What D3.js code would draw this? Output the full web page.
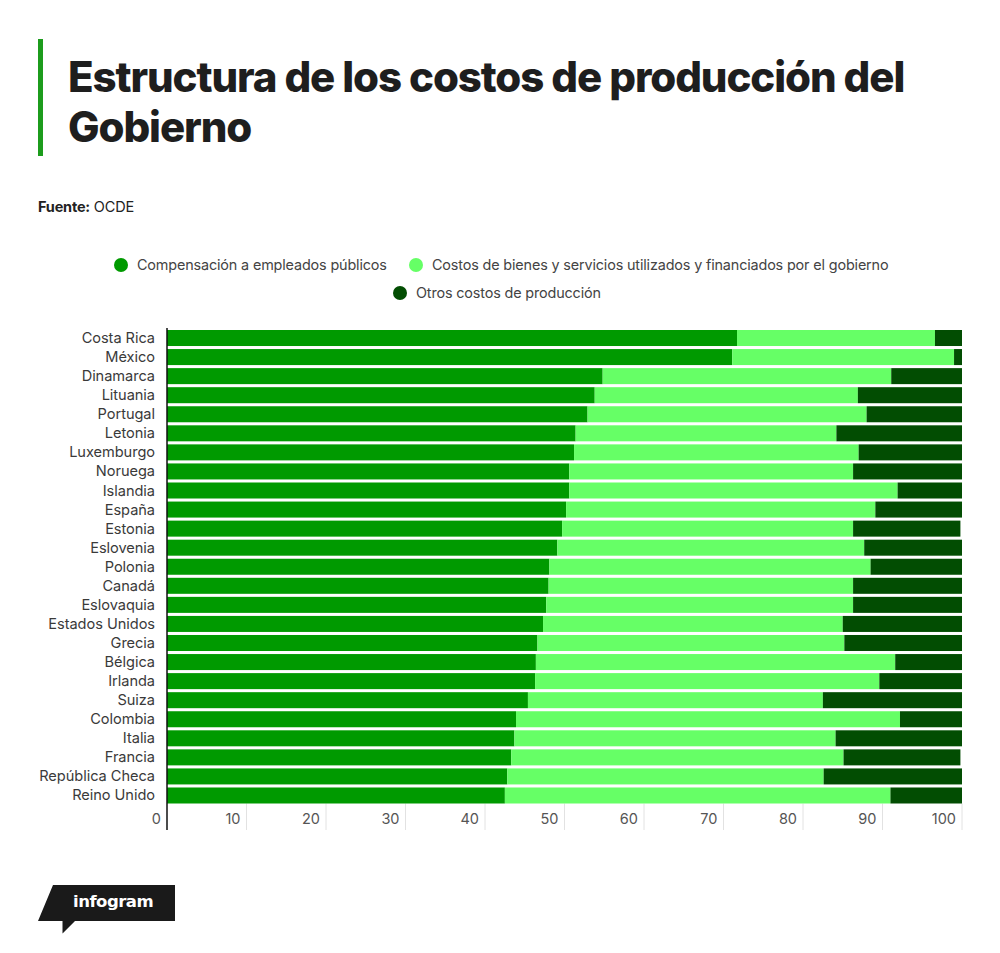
<!DOCTYPE html>
<html><head><meta charset="utf-8">
<script src="https://cdn.jsdelivr.net/npm/d3@7"></script>
<style>
body{margin:0;background:#fff;}
svg{display:block;font-family:Inter,"Liberation Sans",sans-serif;}
</style></head>
<body>
<svg id="chart" width="1000" height="953"></svg>
<script>
const countries = ["Costa Rica","México","Dinamarca","Lituania","Portugal","Letonia","Luxemburgo","Noruega","Islandia","España","Estonia","Eslovenia","Polonia","Canadá","Eslovaquia","Estados Unidos","Grecia","Bélgica","Irlanda","Suiza","Colombia","Italia","Francia","República Checa","Reino Unido"];
const compensacion = [71.7,71.1,54.8,53.8,52.9,51.4,51.2,50.6,50.6,50.2,49.7,49.1,48.1,48.0,47.7,47.3,46.6,46.4,46.3,45.4,43.9,43.7,43.3,42.8,42.5];
const bienes = [24.9,27.9,36.3,33.1,35.1,32.8,35.8,35.7,41.3,38.9,36.6,38.6,40.4,38.3,38.6,37.7,38.6,45.2,43.3,37.1,48.3,40.4,41.8,39.8,48.5];
const otros = [3.4,1.0,8.9,13.1,12.0,15.8,13.0,13.7,8.1,10.9,13.5,12.3,11.5,13.7,13.7,15.0,14.8,8.4,10.4,17.5,7.8,15.9,14.7,17.4,9.0];
const seriesNames = ["Compensación a empleados públicos","Costos de bienes y servicios utilizados y financiados por el gobierno","Otros costos de producción"];
const seriesColors = ["#009a00","#66ff66","#024d02"];
const xTicks = [0,10,20,30,40,50,60,70,80,90,100];

const svg = d3.select("#chart");

// Title block
svg.append("rect").attr("x",38).attr("y",39).attr("width",5).attr("height",117).attr("fill","#1c9c1c");
const title = svg.append("text").attr("fill","#1e1e1e").attr("font-weight",800).attr("font-size",42).attr("letter-spacing","-1.1");
title.append("tspan").attr("x",68).attr("y",92).text("Estructura de los costos de producción del");
title.append("tspan").attr("x",68).attr("y",142).text("Gobierno");

const src = svg.append("text").attr("x",38).attr("y",212).attr("font-size",14.5).attr("fill","#222").attr("letter-spacing","-0.2");
src.append("tspan").attr("font-weight",700).text("Fuente:");
src.append("tspan").text(" OCDE");

// Legend
const legendItems = [
  {i:0, cx:121, cy:265},
  {i:1, cx:416, cy:265},
  {i:2, cx:400, cy:293}
];
const lg = svg.append("g");
legendItems.forEach(d=>{
  lg.append("circle").attr("cx",d.cx).attr("cy",d.cy).attr("r",7).attr("fill",seriesColors[d.i]);
  lg.append("text").attr("x",d.cx+16).attr("y",d.cy+5).attr("font-size",14.4).attr("fill","#444").attr("letter-spacing","-0.15").text(seriesNames[d.i]);
});

// Scales
const x = d3.scaleLinear().domain([0,100]).range([167,962]);
const y = d3.scaleBand().domain(countries).range([330,803.5]).paddingInner(0.16).paddingOuter(0);

// Data stacking
const rows = countries.map((c,i)=>({country:c, s0:compensacion[i], s1:bienes[i], s2:otros[i]}));
const stack = d3.stack().keys(["s0","s1","s2"]);
const stacked = stack(rows);

// Grid lines below bars
const gridG = svg.append("g");
gridG.selectAll("line").data(xTicks.slice(1)).join("line")
  .attr("x1",d=>x(d)).attr("x2",d=>x(d)).attr("y1",803.5).attr("y2",830)
  .attr("stroke","#e2e2e2").attr("stroke-width",1);

// Bars
svg.append("g").selectAll("g").data(stacked).join("g")
  .attr("fill",(d,i)=>seriesColors[i])
  .selectAll("rect").data(d=>d).join("rect")
  .attr("x",d=>x(d[0])).attr("width",d=>x(d[1])-x(d[0]))
  .attr("y",d=>y(d.data.country)).attr("height",y.bandwidth());

// Y axis labels
svg.append("g").selectAll("text").data(countries).join("text")
  .attr("x",155).attr("y",d=>y(d)+y.bandwidth()/2+5)
  .attr("text-anchor","end").attr("font-size",14.6).attr("fill","#3a3a3a").attr("letter-spacing","-0.05")
  .text(d=>d);

// X tick labels
svg.append("g").selectAll("text").data(xTicks).join("text")
  .attr("x",d=>x(d)-6).attr("y",824)
  .attr("text-anchor","end").attr("font-size",14.5).attr("fill","#555")
  .text(d=>d);

// Axis line
svg.append("line").attr("x1",167).attr("x2",167).attr("y1",328).attr("y2",830).attr("stroke","#111").attr("stroke-width",1.5);

// infogram logo
svg.append("path").attr("d","M53,885 L175,885 L175,921 L75,921 L62.5,933.5 L62.5,921 L38,921 Z").attr("fill","#1a1a1a");
svg.append("text").attr("x",73).attr("y",907).attr("font-family","'DejaVu Sans',sans-serif").attr("font-weight",700).attr("font-size",16.5).attr("fill","#fff").attr("letter-spacing","-0.5").text("infogram");
</script>
</body></html>
